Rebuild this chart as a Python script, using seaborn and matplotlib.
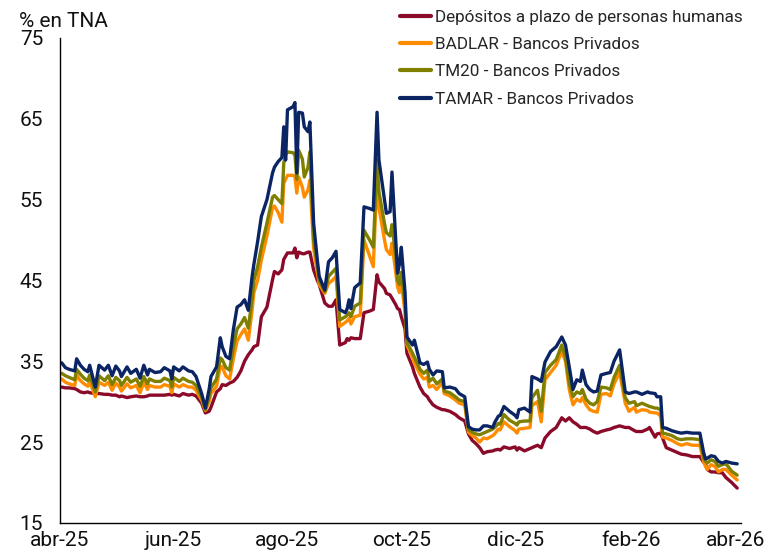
import pandas as pd
import matplotlib
matplotlib.use("Agg")
import matplotlib.pyplot as plt
import matplotlib.transforms as mtransforms
import seaborn as sns

# fechas (lectura aproximada del grafico)
dates = [
    "2025-04-02", "2025-04-04", "2025-04-06", "2025-04-09", "2025-04-10", "2025-04-12", "2025-04-14",
    "2025-04-16", "2025-04-17", "2025-04-20", "2025-04-22", "2025-04-25", "2025-04-27", "2025-04-29",
    "2025-05-01", "2025-05-03", "2025-05-04", "2025-05-07", "2025-05-09", "2025-05-12", "2025-05-14",
    "2025-05-16", "2025-05-18", "2025-05-19", "2025-05-22", "2025-05-25", "2025-05-27", "2025-05-30",
    "2025-05-31", "2025-06-01", "2025-06-04", "2025-06-06", "2025-06-09", "2025-06-11", "2025-06-13",
    "2025-06-16", "2025-06-18", "2025-06-20", "2025-06-21", "2025-06-24", "2025-06-26", "2025-06-27",
    "2025-06-29", "2025-07-01", "2025-07-03", "2025-07-05", "2025-07-07", "2025-07-09", "2025-07-11",
    "2025-07-13", "2025-07-14", "2025-07-16", "2025-07-18", "2025-07-21", "2025-07-24", "2025-07-25",
    "2025-07-27", "2025-07-29", "2025-07-30", "2025-07-31", "2025-08-01", "2025-08-04", "2025-08-05",
    "2025-08-06", "2025-08-07", "2025-08-09", "2025-08-10", "2025-08-12", "2025-08-13", "2025-08-15",
    "2025-08-17", "2025-08-18", "2025-08-21", "2025-08-23", "2025-08-25", "2025-08-27", "2025-08-29",
    "2025-09-01", "2025-09-02", "2025-09-03", "2025-09-04", "2025-09-06", "2025-09-09", "2025-09-11",
    "2025-09-14", "2025-09-16", "2025-09-18", "2025-09-19", "2025-09-22", "2025-09-23", "2025-09-25",
    "2025-09-26", "2025-09-28", "2025-09-29", "2025-09-30", "2025-10-01", "2025-10-03", "2025-10-04",
    "2025-10-07", "2025-10-08", "2025-10-11", "2025-10-13", "2025-10-15", "2025-10-16", "2025-10-18",
    "2025-10-20", "2025-10-23", "2025-10-24", "2025-10-27", "2025-10-30", "2025-11-01", "2025-11-04",
    "2025-11-06", "2025-11-08", "2025-11-10", "2025-11-12", "2025-11-14", "2025-11-16", "2025-11-19",
    "2025-11-20", "2025-11-22", "2025-11-23", "2025-11-25", "2025-11-28", "2025-12-01", "2025-12-02",
    "2025-12-03", "2025-12-06", "2025-12-09", "2025-12-10", "2025-12-13", "2025-12-15", "2025-12-17",
    "2025-12-20", "2025-12-23", "2025-12-26", "2025-12-28", "2025-12-30", "2026-01-01", "2026-01-03",
    "2026-01-05", "2026-01-06", "2026-01-08", "2026-01-10", "2026-01-12", "2026-01-14", "2026-01-16",
    "2026-01-19", "2026-01-21", "2026-01-23", "2026-01-26", "2026-01-29", "2026-01-31", "2026-02-03",
    "2026-02-04", "2026-02-07", "2026-02-10", "2026-02-11", "2026-02-14", "2026-02-15", "2026-02-17",
    "2026-02-18", "2026-02-20", "2026-02-23", "2026-02-26", "2026-02-28", "2026-03-03", "2026-03-06",
    "2026-03-10", "2026-03-12", "2026-03-13", "2026-03-14", "2026-03-16", "2026-03-18", "2026-03-20",
    "2026-03-22", "2026-03-24", "2026-03-27", "2026-03-30",
]

tamar = [
    34.8, 34.2, 34.0, 33.8, 35.3, 34.5, 34.0, 33.7, 34.5, 31.8, 34.5, 33.9, 34.5, 33.2,
    34.4, 33.8, 33.1, 34.3, 33.5, 34.0, 32.9, 34.5, 33.3, 34.0, 33.6, 33.7, 34.2, 33.8,
    32.8, 34.3, 33.8, 34.3, 33.8, 33.7, 33.1, 31.0, 29.2, 31.5, 33.1, 34.3, 37.9, 36.8,
    35.6, 35.3, 38.9, 41.7, 42.0, 42.6, 41.3, 45.4, 47.0, 49.8, 52.9, 55.0, 58.3, 59.0,
    59.7, 60.2, 64.0, 59.9, 66.1, 66.5, 67.0, 58.3, 65.8, 65.7, 64.0, 63.4, 64.6, 52.1,
    47.5, 45.5, 43.8, 47.3, 47.8, 48.6, 41.4, 41.0, 41.5, 42.6, 41.5, 44.1, 44.7, 54.1,
    53.9, 53.7, 65.8, 59.9, 55.0, 53.3, 53.5, 58.4, 50.0, 45.9, 47.0, 49.1, 43.5, 38.0,
    37.0, 37.6, 34.8, 34.6, 34.9, 34.0, 33.3, 33.8, 33.7, 31.7, 31.8, 31.6, 31.0, 30.6,
    26.9, 26.6, 26.5, 26.5, 27.0, 27.0, 26.8, 27.4, 28.2, 28.3, 29.4, 28.8, 28.3, 28.0,
    29.0, 29.2, 28.7, 33.1, 32.8, 32.5, 34.9, 36.2, 36.8, 38.0, 37.0, 34.3, 31.5, 32.7,
    32.5, 33.9, 32.1, 31.5, 31.2, 31.3, 33.3, 33.5, 33.6, 35.0, 36.4, 31.2, 31.0, 31.2,
    31.2, 30.9, 31.2, 31.1, 31.0, 30.6, 30.6, 26.8, 26.7, 26.4, 26.2, 26.1, 26.2, 26.1,
    26.1, 23.7, 22.9, 23.0, 23.3, 23.2, 22.6, 22.4, 22.6, 22.4, 22.3,
]

tm20 = [
    33.5, 33.2, 33.0, 32.7, 34.0, 33.4, 32.9, 32.6, 33.3, 31.2, 33.2, 32.6, 33.2, 32.1,
    33.0, 32.6, 32.0, 33.0, 32.4, 32.8, 31.9, 33.1, 32.2, 32.8, 32.5, 32.5, 32.9, 32.6,
    31.8, 33.0, 32.5, 32.9, 32.5, 32.4, 32.0, 30.5, 29.0, 30.5, 31.7, 32.8, 35.4, 35.2,
    34.2, 33.9, 36.8, 39.0, 39.6, 40.4, 39.1, 42.6, 45.0, 46.7, 49.1, 52.1, 55.3, 55.5,
    55.0, 54.5, 59.5, 60.5, 60.9, 60.8, 60.5, 57.5, 61.1, 60.0, 57.8, 59.0, 60.9, 50.0,
    46.8, 45.0, 43.6, 45.5, 46.0, 46.5, 40.1, 40.5, 40.7, 41.0, 40.5, 41.8, 42.2, 51.2,
    50.0, 49.1, 59.9, 56.0, 52.0, 50.9, 50.5, 51.9, 48.0, 45.0, 44.5, 46.0, 42.0, 37.3,
    36.0, 35.5, 34.0, 33.5, 33.9, 32.5, 32.9, 32.2, 32.8, 31.3, 31.1, 30.6, 30.2, 30.0,
    26.5, 26.2, 26.0, 25.9, 26.1, 26.3, 26.6, 26.8, 27.3, 27.2, 28.4, 27.7, 27.3, 27.1,
    27.5, 27.6, 27.6, 30.5, 31.4, 28.8, 33.6, 34.5, 35.2, 37.0, 35.5, 32.3, 30.6, 31.2,
    31.0, 31.5, 30.3, 29.8, 29.6, 30.0, 31.8, 31.7, 31.5, 33.0, 34.5, 30.5, 29.8, 30.0,
    29.5, 29.8, 29.5, 29.4, 29.2, 29.2, 29.0, 26.1, 26.0, 25.8, 25.4, 25.3, 25.4, 25.4,
    25.3, 23.0, 22.6, 22.4, 22.8, 22.6, 22.0, 22.2, 22.3, 21.4, 20.9,
]

badlar = [
    32.8, 32.4, 32.2, 32.0, 33.3, 32.6, 32.2, 31.9, 32.5, 30.6, 32.4, 32.0, 32.4, 31.4,
    32.3, 31.8, 31.3, 32.2, 31.7, 32.0, 31.1, 32.4, 31.5, 32.0, 31.8, 31.8, 32.1, 31.9,
    31.1, 32.2, 31.8, 32.1, 31.8, 31.8, 31.4, 30.2, 28.9, 30.0, 31.0, 31.9, 34.4, 34.3,
    33.2, 32.8, 35.3, 37.5, 38.3, 39.0, 37.6, 41.2, 43.5, 45.0, 47.5, 50.5, 54.0, 54.2,
    53.4, 52.2, 57.0, 57.5, 58.0, 58.0, 57.8, 55.8, 57.8, 56.5, 55.3, 56.2, 57.4, 49.0,
    46.0, 44.5, 43.4, 44.6, 45.0, 45.5, 39.3, 39.8, 40.0, 40.3, 39.6, 40.5, 40.7, 50.0,
    48.0, 46.7, 57.8, 54.0, 50.0, 48.8, 48.2, 49.6, 46.0, 44.2, 43.5, 44.8, 41.0, 37.0,
    35.5, 34.8, 33.4, 32.8, 33.0, 31.8, 32.0, 31.5, 32.4, 31.0, 30.7, 30.2, 29.8, 29.6,
    26.2, 25.8, 25.5, 25.0, 25.5, 25.4, 25.8, 26.0, 26.6, 26.5, 27.5, 26.9, 26.4, 26.1,
    26.6, 26.7, 26.8, 29.5, 30.0, 27.5, 32.7, 33.6, 34.5, 36.2, 35.0, 31.5, 29.6, 30.3,
    30.0, 30.5, 29.6, 29.0, 28.8, 28.7, 30.9, 31.0, 30.7, 32.2, 33.6, 29.8, 28.8, 29.3,
    28.7, 29.0, 28.9, 28.7, 28.6, 28.6, 28.2, 25.6, 25.5, 25.2, 24.8, 24.6, 24.8, 24.6,
    24.6, 22.6, 22.0, 21.6, 22.2, 22.0, 21.3, 21.6, 21.6, 20.9, 20.3,
]

depositos = [
    31.8, 31.7, 31.7, 31.6, 31.5, 31.2, 31.1, 31.2, 31.1, 31.0, 31.0, 30.9, 30.9, 30.8,
    30.8, 30.6, 30.7, 30.5, 30.6, 30.7, 30.6, 30.6, 30.7, 30.8, 30.8, 30.8, 30.8, 30.9,
    30.8, 30.9, 30.7, 31.0, 30.8, 30.9, 30.7, 29.8, 28.6, 28.8, 29.3, 31.2, 31.6, 32.1,
    32.0, 32.3, 32.5, 33.0, 33.8, 35.0, 35.8, 36.4, 36.8, 37.0, 40.5, 41.7, 45.1, 46.1,
    45.8, 46.3, 47.6, 48.0, 48.4, 48.4, 49.0, 47.8, 48.5, 48.3, 48.3, 48.5, 48.5, 46.3,
    45.0, 44.5, 42.2, 41.8, 41.8, 42.6, 37.0, 37.3, 37.8, 37.6, 37.9, 37.8, 37.8, 41.0,
    41.2, 41.4, 45.7, 44.8, 44.0, 43.4, 43.2, 42.8, 42.0, 41.5, 41.4, 40.5, 39.0, 36.0,
    34.3, 33.5, 31.8, 31.0, 30.6, 30.2, 29.6, 29.3, 29.0, 29.0, 28.8, 28.4, 28.0, 27.6,
    26.0, 25.2, 24.8, 24.3, 23.6, 23.8, 23.9, 24.0, 24.1, 24.0, 24.4, 24.2, 24.4, 24.0,
    24.3, 23.9, 24.2, 24.3, 24.6, 24.3, 25.5, 26.3, 26.8, 28.0, 27.6, 28.0, 27.5, 27.2,
    26.8, 26.8, 26.8, 26.6, 26.3, 26.1, 26.3, 26.5, 26.6, 26.8, 27.0, 26.8, 26.8, 26.4,
    26.3, 26.3, 26.6, 26.8, 25.6, 26.0, 26.1, 25.5, 24.3, 24.0, 23.7, 23.5, 23.4, 23.2,
    23.2, 22.5, 22.2, 21.6, 21.3, 21.3, 21.2, 21.2, 20.6, 20.0, 19.3,
]

series_names = [
    "Depósitos a plazo de personas humanas",
    "BADLAR - Bancos Privados",
    "TM20 - Bancos Privados",
    "TAMAR - Bancos Privados",
]
colors = ["#8B0A2A", "#FF8C00", "#808000", "#0B2463"]

tick_dates = ["2025-04-01", "2025-06-01", "2025-08-01", "2025-10-01",
              "2025-12-01", "2026-02-01", "2026-04-01"]
tick_labels = ["abr-25", "jun-25", "ago-25", "oct-25", "dic-25", "feb-26", "abr-26"]
y_ticks = [15, 25, 35, 45, 55, 65, 75]

sns.set_style("white")
plt.rcParams["font.family"] = ["Roboto", "DejaVu Sans"]

fechas = pd.to_datetime(dates)
fig = plt.figure(figsize=(7.67, 5.58), dpi=100)
ax = fig.add_axes([0.078, 0.063, 0.888, 0.869])

for name, vals, col in zip(series_names, [depositos, badlar, tm20, tamar], colors):
    sns.lineplot(x=fechas, y=vals, ax=ax, color=col, linewidth=2.4, label=name)

ax.set_xlim(pd.Timestamp(tick_dates[0]), pd.Timestamp(tick_dates[-1]))
ax.set_ylim(15, 75)
ax.set_xticks(pd.to_datetime(tick_dates))
ax.set_xticklabels(tick_labels)
ax.set_yticks(y_ticks)
ax.set_xlabel("")
ax.set_ylabel("")

for side in ["top", "right"]:
    ax.spines[side].set_visible(False)
for side in ["left", "bottom"]:
    ax.spines[side].set_color("black")
    ax.spines[side].set_linewidth(1.0)

ax.tick_params(axis="both", direction="in", length=5, width=0.8, colors="black",
               labelsize=15, labelcolor="#111111")
ax.tick_params(axis="y", pad=12)
ax.tick_params(axis="x", pad=6)

# la ultima etiqueta se corre un poco para que no quede cortada
last = ax.get_xticklabels()[-1]
last.set_transform(last.get_transform() +
                   mtransforms.ScaledTranslation(-5 / 100, 0, fig.dpi_scale_trans))

fig.text(0.025, 1 - 27 / 558, "% en TNA", fontsize=15, color="#111111", va="baseline")

leg = ax.legend(loc="upper right", bbox_to_anchor=(1.012, 1.072), frameon=False,
                fontsize=12.3, handlelength=1.8, handletextpad=0.2,
                labelspacing=0.72, borderaxespad=0)
for h in leg.get_lines():
    h.set_linewidth(3)

fig.savefig("out.png", dpi=100)
